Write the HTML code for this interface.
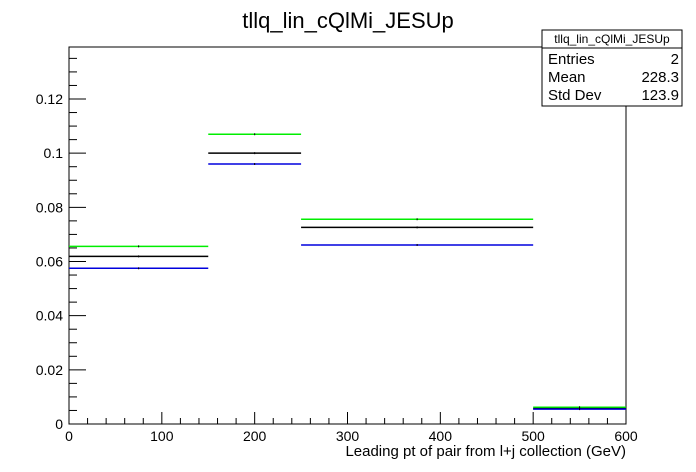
<!DOCTYPE html>
<html><head><meta charset="utf-8"><style>
body{margin:0;background:#fff;}
svg{display:block;font-family:"Liberation Sans",sans-serif;}
</style></head><body>
<svg id="c" width="696" height="472">
<text x="348" y="28" font-size="22" text-anchor="middle">tllq_lin_cQlMi_JESUp</text>
<g id="plot"></g>
<g>
<rect x="542" y="30" width="140" height="76" fill="#fff" stroke="#000" stroke-width="1"/>
<line x1="542" y1="48" x2="682" y2="48" stroke="#000"/>
<text x="612" y="43" font-size="12" text-anchor="middle">tllq_lin_cQlMi_JESUp</text>
<text x="548" y="64" font-size="15">Entries</text><text x="679" y="64" font-size="15" text-anchor="end">2</text>
<text x="548" y="82" font-size="15">Mean</text><text x="679" y="82" font-size="15" text-anchor="end">228.3</text>
<text x="548" y="100" font-size="15">Std Dev</text><text x="679" y="100" font-size="15" text-anchor="end">123.9</text>
</g>
<text x="626" y="456" font-size="15" text-anchor="end">Leading pt of pair from l+j collection (GeV)</text>
</svg>
<script>
const binEdges=[0,150,250,500,600];
const greenVals=[0.0656,0.1070,0.0756,0.0062];
const blackVals=[0.0619,0.1000,0.0726,0.0057];
const blueVals=[0.0575,0.0960,0.0661,0.0055];
const xTicks=[0,100,200,300,400,500,600];
const yTicks=[0,0.02,0.04,0.06,0.08,0.1,0.12];
const yTickLabels=["0","0.02","0.04","0.06","0.08","0.1","0.12"];
const X0=69,X1=626,Y0=424,Y1=47,XMAX=600,YMAX=0.1392;
const sx=v=>X0+(v/XMAX)*(X1-X0);
const sy=v=>Y0-(v/YMAX)*(Y0-Y1);
const NS="http://www.w3.org/2000/svg";
const g=document.getElementById('plot');
function mk(t,a){const e=document.createElementNS(NS,t);for(const k in a)e.setAttribute(k,a[k]);g.appendChild(e);return e;}
const fr=mk('rect',{x:X0,y:Y1,width:X1-X0,height:Y0-Y1,fill:'none',stroke:'#000'});


for(let v=0;v<=XMAX;v+=20){const maj=v%100===0;const t=mk('line',{x1:sx(v),x2:sx(v),y1:Y0,y2:Y0-(maj?12:6),stroke:'#000'});

}
xTicks.forEach(v=>{const t=mk('text',{x:sx(v),y:Y0+17,'font-size':14,'text-anchor':'middle'});t.textContent=v;

});
for(let i=0;i*0.005<=YMAX;i++){const v=i*0.005;const maj=i%4===0;const t=mk('line',{x1:X0,x2:X0+(maj?17:8),y1:sy(v),y2:sy(v),stroke:'#000'});

}
yTicks.forEach((v,i)=>{const t=mk('text',{x:X0-6,y:sy(v)+5,'font-size':14,'text-anchor':'end'});t.textContent=yTickLabels[i];

});
function series(vals,col,name){vals.forEach((v,i)=>{const l=mk('line',{x1:sx(binEdges[i]),x2:sx(binEdges[i+1]),y1:sy(v),y2:sy(v),stroke:col,'stroke-width':1.5});


const m=(sx(binEdges[i])+sx(binEdges[i+1]))/2;mk('line',{x1:m,x2:m,y1:sy(v)-1,y2:sy(v)+1,stroke:'#000'});});}
series(greenVals,'#00ee00','green-series');
series(blackVals,'#000','black-series');
series(blueVals,'#0000dd','blue-series');
</script>
</body></html>
